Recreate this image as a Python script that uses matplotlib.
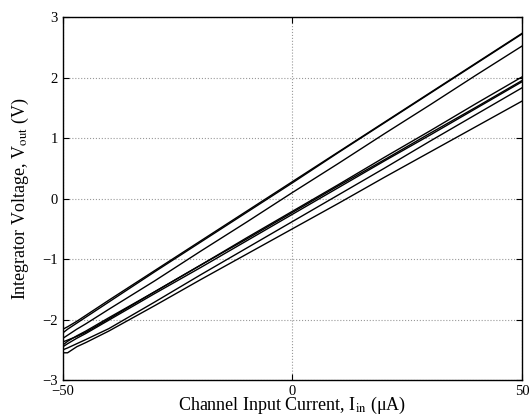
import matplotlib
matplotlib.use('Agg')
import matplotlib.pyplot as plt
import numpy as np

# Input current samples (uA)
current = [-50, -49, -47, -45, -40, -30, -20, -10, 0, 10, 20, 30, 40, 50]

# Integrator output voltage (V) for each channel
ch1 = [-2.16, -2.12, -2.03, -1.93, -1.68, -1.19, -0.70, -0.21, 0.28, 0.77, 1.26, 1.75, 2.24, 2.73]
ch2 = [-2.22, -2.16, -2.06, -1.96, -1.71, -1.21, -0.72, -0.23, 0.26, 0.76, 1.25, 1.74, 2.23, 2.72]
ch3 = [-2.31, -2.26, -2.16, -2.07, -1.83, -1.36, -0.87, -0.39, 0.10, 0.58, 1.07, 1.55, 2.04, 2.52]
ch4 = [-2.37, -2.34, -2.28, -2.21, -1.99, -1.54, -1.10, -0.65, -0.21, 0.23, 0.68, 1.12, 1.57, 2.01]
ch5 = [-2.42, -2.36, -2.27, -2.19, -1.97, -1.54, -1.10, -0.67, -0.23, 0.21, 0.64, 1.08, 1.51, 1.95]
ch6 = [-2.45, -2.40, -2.31, -2.23, -2.01, -1.57, -1.14, -0.70, -0.26, 0.18, 0.62, 1.05, 1.49, 1.93]
ch7 = [-2.50, -2.47, -2.40, -2.33, -2.15, -1.71, -1.26, -0.82, -0.38, 0.06, 0.50, 0.95, 1.39, 1.83]
ch8 = [-2.55, -2.55, -2.45, -2.38, -2.19, -1.77, -1.34, -0.92, -0.50, -0.08, 0.35, 0.77, 1.19, 1.61]

channels = [ch1, ch2, ch3, ch4, ch5, ch6, ch7, ch8]

plt.rcParams['font.family'] = ['Liberation Serif', 'DejaVu Serif']
plt.rcParams['mathtext.fontset'] = 'stix'

fig = plt.figure(figsize=(5.31, 4.16), dpi=100)
ax = fig.add_axes([0.1186, 0.0865, 0.8644, 0.8725])

for v in channels:
    ax.plot(current, v, color='black', linewidth=1.0)

ax.set_xlim(-50, 50)
ax.set_ylim(-3, 3)
ax.set_xticks([-50, 0, 50])
ax.set_yticks([-3, -2, -1, 0, 1, 2, 3])
ax.set_yticklabels(['\u22123', '\u22122', '\u22121', '0', '1', '2', '3'])
ax.set_xticklabels(['\u221250', '0', '50'])
ax.tick_params(direction='in', top=True, right=True, labelsize=10.5, length=4)
ax.grid(True, linestyle=':', color='#999999', linewidth=0.8)
for s in ax.spines.values():
    s.set_linewidth(1.0)

ax.set_xlabel('Channel Input Current, I$_{\\rm in}$ (\u03bcA)', fontsize=13, labelpad=-2)
ax.set_ylabel('Integrator Voltage, V$_{\\rm out}$ (V)', fontsize=13, labelpad=8)

fig.savefig('out.png', dpi=100)
